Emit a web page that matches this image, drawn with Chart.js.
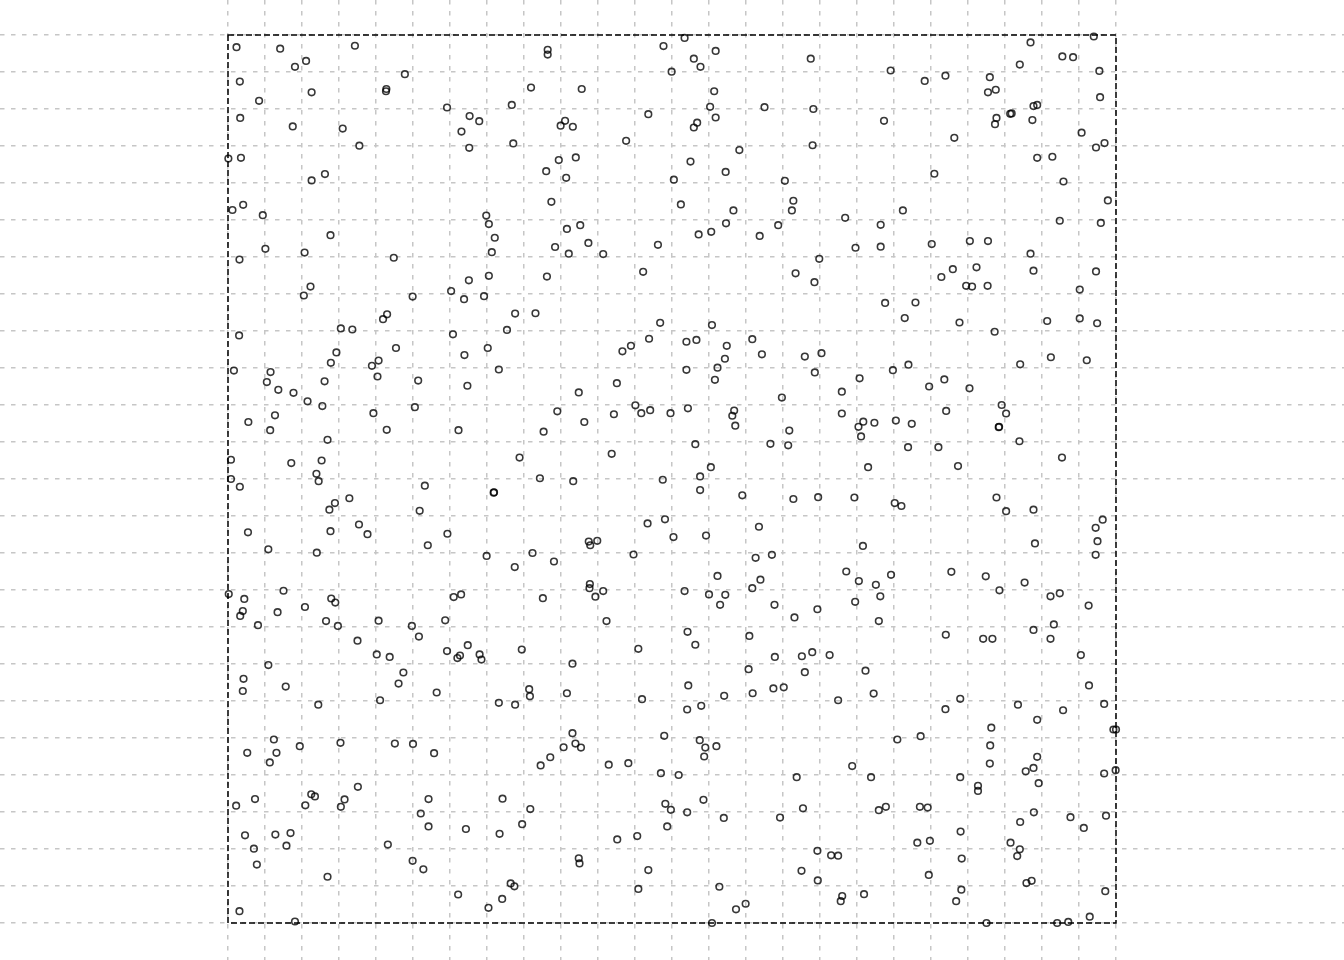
<!DOCTYPE html>
<html><head><meta charset="utf-8">
<script src="https://cdn.jsdelivr.net/npm/chart.js@4/dist/chart.umd.min.js"></script>
<style>html,body{margin:0;padding:0;background:#fff;} #wrap{width:1344px;height:960px;position:relative;}</style>
</head><body><div id="wrap"><canvas id="c"></canvas></div>
<script>
// Point pattern in a 24 x 24 quadrat grid, split by block (x block: 0-8, 8-16, 16-24; y block: top, middle, bottom)
const blockTopLeft = [[0.23,23.67],[1.41,23.63],[3.43,23.71],[2.11,23.30],[1.81,23.14],[0.32,22.74],[4.78,22.94],[4.28,22.54],[4.27,22.48],[2.26,22.45],[0.84,22.22],[0.33,21.76],[1.75,21.53],[3.10,21.47],[3.55,21.01],[5.92,22.04],[6.53,21.81],[6.79,21.67],[6.31,21.39],[6.52,20.95],[7.67,22.11],[7.71,21.07],[0.01,20.66],[0.35,20.68],[2.62,20.24],[2.26,20.07],[0.12,19.27],[0.41,19.41],[0.94,19.13],[2.77,18.59],[1.01,18.22],[2.07,18.12],[0.31,17.93],[4.48,17.98],[6.98,19.12],[7.05,18.89],[7.21,18.52],[7.13,18.13],[7.05,17.49],[6.51,17.37],[6.03,17.08],[6.38,16.86],[6.92,16.94],[2.23,17.20],[2.05,16.96],[4.99,16.93],[7.76,16.47],[4.30,16.45],[4.19,16.32]];
const blockTopMid = [[8.64,23.60],[8.64,23.47],[11.77,23.70],[12.34,23.92],[13.18,23.57],[12.59,23.36],[12.77,23.14],[11.99,23.01],[15.75,23.36],[8.19,22.58],[9.56,22.54],[13.14,22.48],[13.03,22.06],[14.50,22.05],[15.82,22.00],[11.36,21.86],[9.11,21.68],[8.99,21.55],[9.32,21.52],[12.68,21.63],[12.59,21.50],[13.18,21.77],[10.76,21.14],[15.80,21.02],[13.82,20.89],[8.94,20.62],[9.40,20.69],[8.60,20.32],[9.14,20.14],[12.50,20.58],[13.45,20.30],[12.05,20.09],[15.05,20.06],[8.74,19.49],[12.24,19.42],[15.28,19.52],[15.24,19.26],[13.66,19.26],[13.46,18.91],[14.87,18.86],[13.06,18.68],[12.72,18.61],[14.37,18.57],[9.16,18.76],[9.52,18.86],[9.74,18.38],[8.84,18.27],[9.21,18.09],[10.14,18.08],[11.62,18.33],[11.22,17.60],[8.62,17.47],[15.34,17.56],[15.85,17.32],[8.31,16.48],[11.68,16.22],[13.08,16.16]];
const blockTopRight = [[21.69,23.80],[23.40,23.96],[22.55,23.42],[22.84,23.40],[21.40,23.20],[23.55,23.03],[17.91,23.04],[18.83,22.76],[19.39,22.90],[20.59,22.86],[20.54,22.45],[20.75,22.52],[23.57,22.32],[21.14,21.87],[21.18,21.88],[20.77,21.76],[20.73,21.59],[21.77,22.08],[21.87,22.11],[21.74,21.70],[17.73,21.68],[19.63,21.22],[23.07,21.36],[23.46,20.96],[23.69,21.08],[21.87,20.68],[22.28,20.71],[19.09,20.25],[22.58,20.04],[23.78,19.53],[18.24,19.26],[16.68,19.06],[17.64,18.87],[22.48,18.98],[23.59,18.92],[16.96,18.25],[17.64,18.28],[19.02,18.35],[20.05,18.43],[20.54,18.43],[21.69,18.09],[15.98,17.95],[19.59,17.67],[20.23,17.72],[19.28,17.46],[21.77,17.63],[23.46,17.61],[19.95,17.22],[20.11,17.20],[20.53,17.22],[23.02,17.12],[17.76,16.76],[18.58,16.77],[18.29,16.35],[19.77,16.23],[22.14,16.27],[23.02,16.34],[23.49,16.21]];
const blockMidLeft = [[3.05,16.07],[3.36,16.04],[7.54,16.03],[0.30,15.88],[6.08,15.91],[4.54,15.54],[7.02,15.54],[2.93,15.42],[2.78,15.14],[6.39,15.35],[4.07,15.20],[3.89,15.06],[4.04,14.77],[0.16,14.93],[1.15,14.89],[1.05,14.62],[1.36,14.41],[1.77,14.33],[2.61,14.64],[5.14,14.66],[6.47,14.52],[7.32,14.96],[2.15,14.10],[2.55,13.97],[5.05,13.94],[3.93,13.78],[1.27,13.72],[0.55,13.54],[1.14,13.32],[4.29,13.33],[6.23,13.32],[2.69,13.06],[0.08,12.52],[1.71,12.43],[2.53,12.50],[2.39,12.14],[2.45,11.94],[0.08,12.00],[0.32,11.79],[7.88,12.58],[5.32,11.82],[7.18,11.63],[7.19,11.64],[3.28,11.48],[2.89,11.35],[2.74,11.17],[5.18,11.14],[3.54,10.77],[3.77,10.51],[2.77,10.59],[0.54,10.56],[5.93,10.52],[5.40,10.21],[1.09,10.10],[2.40,10.01],[6.99,9.92],[7.75,9.62],[0.02,8.89],[0.44,8.76],[1.50,8.98],[2.79,8.77],[2.90,8.66],[6.10,8.81],[6.30,8.88],[0.40,8.43],[0.33,8.30],[1.34,8.40],[2.08,8.54],[2.65,8.16],[4.07,8.17],[5.87,8.18]];
const blockCenter = [[10.66,15.45],[10.89,15.60],[11.38,15.79],[12.39,15.71],[12.66,15.76],[14.17,15.78],[13.48,15.60],[14.43,15.37],[15.59,15.31],[13.43,15.25],[13.23,15.01],[12.39,14.95],[13.16,14.68],[15.86,14.88],[10.51,14.59],[9.48,14.34],[14.97,14.20],[8.90,13.83],[9.63,13.54],[10.43,13.75],[11.01,13.99],[11.17,13.78],[11.41,13.86],[11.96,13.78],[12.43,13.91],[13.68,13.85],[13.63,13.71],[13.71,13.44],[8.53,13.28],[15.17,13.31],[14.66,12.95],[15.14,12.91],[12.63,12.94],[10.37,12.68],[8.43,12.02],[9.33,11.94],[11.75,11.98],[13.05,12.32],[12.76,12.07],[12.76,11.70],[13.90,11.56],[15.28,11.46],[11.34,10.80],[11.81,10.91],[12.04,10.43],[12.92,10.47],[14.35,10.71],[9.75,10.31],[9.79,10.21],[9.98,10.33],[8.23,10.00],[8.81,9.77],[10.96,9.96],[14.26,9.87],[14.70,9.95],[13.23,9.38],[14.39,9.28],[14.17,9.05],[9.78,9.16],[9.77,9.05],[10.14,8.97],[9.93,8.82],[8.51,8.78],[12.34,8.97],[13.00,8.88],[13.44,8.87],[13.30,8.60],[14.77,8.60],[15.31,8.26],[10.23,8.16]];
const blockMidRight = [[20.72,15.98],[16.04,15.40],[22.24,15.29],[23.21,15.21],[21.41,15.10],[18.39,15.09],[17.97,14.94],[17.07,14.72],[19.36,14.69],[18.95,14.50],[20.04,14.45],[16.59,14.36],[16.59,13.77],[17.17,13.55],[17.04,13.41],[17.11,13.15],[17.47,13.52],[18.05,13.58],[18.48,13.49],[19.41,13.84],[20.91,14.00],[21.03,13.77],[20.83,13.40],[20.84,13.41],[21.39,13.02],[18.38,12.86],[19.20,12.86],[22.54,12.58],[17.30,12.32],[19.73,12.35],[15.95,11.51],[16.93,11.50],[18.02,11.35],[18.20,11.27],[20.77,11.50],[21.03,11.13],[21.77,11.17],[23.64,10.90],[23.45,10.68],[23.50,10.32],[23.45,9.95],[17.16,10.19],[21.81,10.26],[16.71,9.50],[17.05,9.24],[17.51,9.14],[17.92,9.41],[17.63,8.83],[16.95,8.68],[19.55,9.49],[20.48,9.37],[21.53,9.20],[20.85,8.99],[22.23,8.83],[22.48,8.91],[23.26,8.58],[15.93,8.48],[17.59,8.16]];
const blockBottomLeft = [[0.81,8.05],[2.97,8.03],[4.97,8.03],[3.50,7.63],[5.16,7.74],[4.02,7.26],[4.37,7.19],[6.48,7.51],[5.92,7.35],[6.20,7.16],[6.27,7.23],[6.80,7.26],[6.85,7.12],[1.09,6.97],[0.42,6.60],[0.40,6.27],[1.56,6.39],[4.74,6.77],[4.61,6.47],[5.64,6.23],[4.11,6.02],[2.44,5.90],[7.32,5.95],[7.76,5.90],[1.24,4.96],[0.52,4.60],[1.31,4.60],[1.13,4.34],[1.94,4.78],[3.04,4.87],[4.51,4.85],[5.00,4.84],[5.57,4.59],[3.51,3.68],[0.22,3.17],[0.73,3.35],[2.25,3.48],[2.35,3.42],[2.09,3.18],[3.15,3.34],[3.05,3.14],[5.42,3.35],[5.21,2.96],[5.42,2.61],[7.42,3.36],[6.43,2.54],[7.34,2.41],[0.46,2.37],[1.28,2.39],[1.69,2.43],[1.58,2.09],[0.70,2.01],[0.78,1.58],[4.32,2.12],[4.99,1.68],[5.28,1.45],[2.69,1.25],[7.64,1.07],[7.74,0.99],[6.22,0.77],[7.41,0.65],[7.04,0.41],[0.31,0.32],[1.81,0.04]];
const blockBottomMid = [[7.94,7.39],[11.09,7.41],[12.42,7.87],[12.63,7.52],[14.09,7.76],[9.31,7.01],[8.14,6.32],[8.16,6.13],[9.16,6.21],[11.19,6.05],[12.44,6.42],[12.41,5.77],[12.79,5.87],[13.41,6.14],[14.07,6.86],[14.18,6.21],[14.78,7.19],[14.74,6.34],[15.02,6.37],[15.51,7.21],[15.79,7.32],[15.59,6.78],[9.31,5.13],[9.39,4.85],[9.54,4.74],[9.07,4.75],[8.71,4.48],[8.45,4.26],[10.29,4.28],[10.82,4.32],[11.79,5.06],[12.75,4.94],[12.90,4.74],[13.20,4.78],[12.87,4.50],[11.70,4.05],[12.18,4.00],[15.37,3.94],[8.17,3.08],[7.95,2.67],[11.82,3.22],[11.97,3.06],[12.41,2.99],[12.85,3.33],[13.40,2.84],[14.92,2.85],[15.54,3.10],[11.87,2.61],[10.52,2.26],[11.06,2.35],[9.48,1.75],[9.50,1.61],[11.36,1.43],[15.50,1.41],[11.09,0.92],[13.28,0.98],[13.73,0.37],[13.99,0.52],[13.08,0.00]];
const blockBottomRight = [[22.32,8.07],[19.40,7.79],[20.41,7.68],[20.66,7.68],[21.77,7.92],[22.23,7.68],[23.05,7.24],[16.26,7.24],[17.23,6.82],[17.45,6.20],[16.49,6.02],[23.27,6.42],[19.79,6.06],[19.39,5.78],[21.35,5.90],[22.57,5.75],[23.68,5.92],[21.87,5.49],[20.63,5.28],[23.93,5.23],[24.00,5.23],[18.09,4.96],[18.72,5.05],[20.60,4.80],[21.87,4.49],[20.59,4.31],[16.87,4.24],[17.38,3.94],[19.79,3.94],[20.27,3.71],[20.27,3.57],[21.56,4.10],[21.77,4.19],[21.91,3.78],[23.68,4.04],[23.99,4.13],[17.59,3.05],[17.78,3.14],[18.70,3.14],[18.91,3.12],[21.78,2.99],[21.41,2.73],[22.77,2.86],[23.13,2.57],[23.73,2.90],[19.80,2.47],[15.93,1.95],[16.30,1.83],[16.49,1.82],[18.63,2.17],[18.97,2.22],[21.15,2.17],[21.40,1.99],[21.33,1.81],[19.83,1.74],[15.94,1.15],[18.94,1.30],[21.58,1.08],[21.72,1.14],[16.60,0.73],[16.56,0.59],[17.19,0.78],[19.82,0.90],[19.68,0.59],[23.71,0.86],[23.29,0.17],[20.50,0.00],[22.41,0.00],[22.71,0.03]];

const gridValues = [0,1,2,3,4,5,6,7,8,9,10,11,12,13,14,15,16,17,18,19,20,21,22,23,24];
const boxMin = 0, boxMax = 24;

const points = [].concat(blockTopLeft, blockTopMid, blockTopRight, blockMidLeft, blockCenter,
  blockMidRight, blockBottomLeft, blockBottomMid, blockBottomRight).map(([x, y]) => ({x, y}));

// Layout: the square box spans 888 px (37 px per grid unit), its left edge 228 px in,
// top edge 35 px down, on a 1344 x 960 canvas; grid lines run across the whole canvas.
const unitPx = 37;
const xRange = {min: boxMin - 228 / unitPx, max: boxMax + (1344 - 1116) / unitPx};
const yRange = {min: boxMin - (960 - 923) / unitPx, max: boxMax + 35 / unitPx};

const gridStyle = {color: '#c6c6c6', lineWidth: 1.5, drawTicks: false};
const dashedBorder = {display: false, dash: [4.5, 6.5]};

const boxBorder = {
  id: 'boxBorder',
  beforeDatasetsDraw(chart) {
    const {ctx, scales: {x, y}} = chart;
    const l = x.getPixelForValue(boxMin), r = x.getPixelForValue(boxMax);
    const t = y.getPixelForValue(boxMax), b = y.getPixelForValue(boxMin);
    ctx.save();
    ctx.strokeStyle = '#000';
    ctx.lineWidth = 1.5;
    ctx.setLineDash([6, 3]);
    ctx.strokeRect(l, t, r - l, b - t);
    ctx.restore();
  }
};

new Chart(document.getElementById('c'), {
  type: 'scatter',
  data: {datasets: [{
    data: points,
    pointRadius: 3.3,
    pointHoverRadius: 3.3,
    borderWidth: 1.6,
    borderColor: 'rgba(0,0,0,0.78)',
    backgroundColor: 'rgba(0,0,0,0)',
    clip: false
  }]},
  options: {
    responsive: true,
    maintainAspectRatio: false,
    devicePixelRatio: 1,
    animation: false,
    events: [],
    layout: {padding: 0, autoPadding: false},
    plugins: {legend: {display: false}, tooltip: {enabled: false}},
    scales: {
      x: {
        type: 'linear', min: xRange.min, max: xRange.max,
        afterBuildTicks: s => { s.ticks = gridValues.map(v => ({value: v})); },
        ticks: {display: false},
        grid: gridStyle, border: dashedBorder
      },
      y: {
        type: 'linear', min: yRange.min, max: yRange.max,
        afterBuildTicks: s => { s.ticks = gridValues.map(v => ({value: v})); },
        ticks: {display: false},
        grid: gridStyle, border: dashedBorder
      }
    }
  },
  plugins: [boxBorder]
});
</script></body></html>
